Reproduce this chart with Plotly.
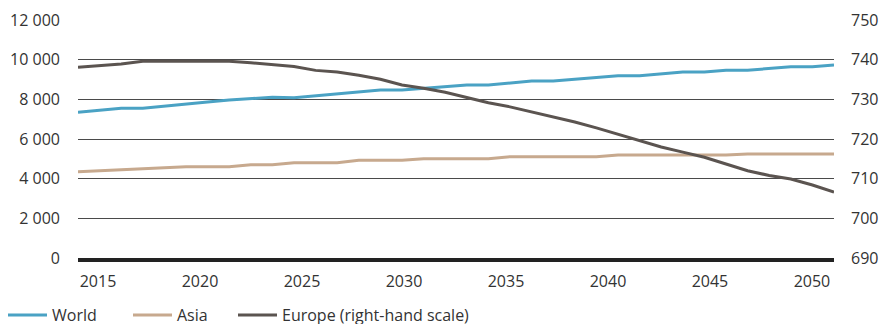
import plotly.graph_objects as go

years = list(range(2015, 2051))

world = [7345, 7446, 7547, 7547, 7664, 7748, 7865, 7966, 8033, 8100,
         8082, 8183, 8302, 8386, 8470, 8470, 8555, 8672, 8723, 8723,
         8824, 8924, 8924, 9008, 9109, 9193, 9193, 9277, 9378, 9378,
         9462, 9462, 9563, 9647, 9647, 9731]

asia = [4351, 4402, 4437, 4487, 4521, 4605, 4605, 4605, 4706, 4706,
        4807, 4807, 4807, 4925, 4925, 4925, 5008, 5008, 5008, 5008,
        5109, 5109, 5109, 5109, 5109, 5193, 5193, 5193, 5193, 5193,
        5193, 5244, 5244, 5244, 5244, 5244]

europe = [738.1, 738.5, 738.9, 739.6, 739.6, 739.6, 739.6, 739.6, 739.2, 738.7,
          738.3, 737.3, 736.9, 736.05, 735.05, 733.6, 732.8, 731.8, 730.5, 729.15,
          728.1, 726.8, 725.5, 724.3, 722.8, 721.2, 719.6, 718.0, 716.7, 715.4,
          713.7, 712.0, 710.8, 709.9, 708.4, 706.6]

label_range = [2014.02, 2051.08]
left_ticks = [0, 2000, 4000, 6000, 8000, 10000, 12000]
left_labels = ["0", "2 000", "4 000", "6 000", "8 000", "10 000", "12 000"]
right_ticks = [690, 700, 710, 720, 730, 740, 750]

C_WORLD = "#4aa2c4"
C_ASIA = "#c7a98e"
C_EUROPE = "#5b5450"
FONT = "Open Sans"
TXT = "#333333"
FS = 16

fig = go.Figure()

fig.add_trace(go.Scatter(x=years, y=world, name="World", mode="lines",
                         line=dict(color=C_WORLD, width=3), legend="legend"))
fig.add_trace(go.Scatter(x=years, y=asia, name="Asia", mode="lines",
                         line=dict(color=C_ASIA, width=3), legend="legend2"))
fig.add_trace(go.Scatter(x=years, y=europe, name="Europe (right-hand scale)", mode="lines",
                         line=dict(color=C_EUROPE, width=3), yaxis="y2", legend="legend3"))
# dummy trace so that the labelled year axis is drawn
fig.add_trace(go.Scatter(x=label_range, y=[None, None], xaxis="x2", showlegend=False,
                         hoverinfo="skip", mode="lines"))

legend_common = dict(orientation="h", xref="container", yref="paper", yanchor="middle",
                     y=-0.24, xanchor="left", bgcolor="rgba(0,0,0,0)",
                     font=dict(family=FONT, size=FS, color=TXT), itemwidth=39)

fig.update_layout(
    width=880, height=324,
    margin=dict(l=78, r=46, t=20, b=66, autoexpand=False),
    paper_bgcolor="white", plot_bgcolor="white",
    font=dict(family=FONT, size=FS, color=TXT),
    legend=dict(legend_common, x=3 / 880),
    legend2=dict(legend_common, x=128 / 880),
    legend3=dict(legend_common, x=233 / 880),
    xaxis=dict(range=[2015, 2050], visible=False, showgrid=False, zeroline=False),
    xaxis2=dict(range=label_range, overlaying="x", anchor="y", side="bottom",
                tick0=2015, dtick=5, showgrid=False, zeroline=False,
                showline=True, linewidth=4, linecolor="#222222",
                ticks="", ticklabelstandoff=6,
                tickfont=dict(family=FONT, size=FS, color=TXT)),
    yaxis=dict(range=[0, 12000], tickvals=left_ticks, ticktext=left_labels,
               showgrid=True, gridcolor="#4a4a4a", gridwidth=1, zeroline=False,
               ticks="", ticklabelstandoff=17,
               tickfont=dict(family=FONT, size=FS, color=TXT)),
    yaxis2=dict(range=[690, 750], tickvals=right_ticks, overlaying="y", side="right",
                showgrid=False, zeroline=False, ticks="", ticklabelstandoff=16,
                tickfont=dict(family=FONT, size=FS, color=TXT)),
)

fig.write_html("out.html")
